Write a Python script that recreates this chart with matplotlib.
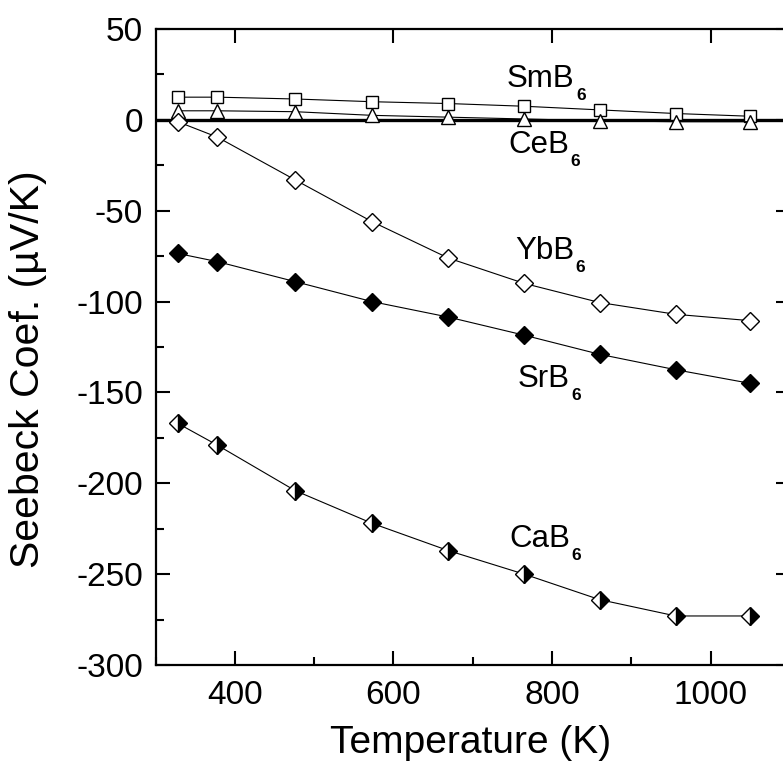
import matplotlib
matplotlib.use("Agg")
import matplotlib.pyplot as plt
from matplotlib.ticker import MultipleLocator
from matplotlib.transforms import offset_copy

plt.rcParams['font.family'] = ['Liberation Sans', 'DejaVu Sans']
plt.rcParams['axes.unicode_minus'] = False

# Data
temperature = [328, 378, 476, 573, 669, 765, 860, 956, 1050]
smb6 = [12.5, 12.5, 11.5, 10, 9, 7.5, 5.5, 3.5, 2]
ceb6 = [5, 5, 4.5, 2.5, 1.5, 0.5, -0.5, -1, -1]
ybb6 = [-1, -9.5, -33, -56, -76, -90, -100.5, -107, -110.5]
srb6 = [-73.5, -78, -89, -100, -108.5, -118.5, -129, -137.5, -145]
cab6 = [-167, -179, -204, -222, -237, -250, -264, -273, -273]

x_ticks = [400, 600, 800, 1000]
y_ticks = [-300, -250, -200, -150, -100, -50, 0, 50]

fig = plt.figure(figsize=(7.83, 7.76), dpi=100)
ax = fig.add_axes([0.1986, 0.143, 0.8103, 0.8196])

lw = 0.8
mew = 1.0
ax.axhline(0, color='black', lw=2.4, zorder=2)
ax.plot(temperature, smb6, '-', color='black', lw=lw, marker='s', ms=9,
        mfc='white', mec='black', mew=mew, zorder=3)
ax.plot(temperature, ceb6, '-', color='black', lw=lw, marker='^', ms=10.5,
        mfc='white', mec='black', mew=mew, zorder=3)
ax.plot(temperature, ybb6, '-', color='black', lw=lw, marker='D', ms=9.5,
        mfc='white', mec='black', mew=mew, zorder=3)
ax.plot(temperature, srb6, '-', color='black', lw=lw, marker='D', ms=9.5,
        mfc='black', mec='black', mew=mew, zorder=3)
ax.plot(temperature, cab6, '-', color='black', lw=lw, marker='D', ms=9.5,
        fillstyle='right', mfc='black', mfcalt='white', mec='black', mew=mew, zorder=3)

ax.set_xlim(300, 1100)
ax.set_ylim(-300, 50)

fig.canvas.draw()
renderer = fig.canvas.get_renderer()

def label(x, y, main, sub):
    t = ax.text(x, y, main, fontsize=22.5, ha='left', va='baseline')
    bb = t.get_window_extent(renderer=renderer)
    xd, yd = ax.transData.transform((x, y))
    dx_pt = (bb.x1 - xd + 1.5) * 72 / fig.dpi
    tr = offset_copy(ax.transData, fig=fig, x=dx_pt, y=-9.5, units='points')
    ax.text(x, y, sub, fontsize=12.5, fontweight='bold', ha='left',
            va='baseline', transform=tr)

label(743, 18.2, 'SmB', '6')
label(745, -18.2, 'CeB', '6')
label(753, -76.5, 'YbB', '6')
label(757, -147, 'SrB', '6')
label(746, -235, 'CaB', '6')

ax.set_xticks(x_ticks)
ax.set_yticks(y_ticks)
ax.xaxis.set_minor_locator(MultipleLocator(100))
ax.yaxis.set_minor_locator(MultipleLocator(25))
ax.tick_params(which='major', direction='in', length=10, width=1.5,
               labelsize=24, top=True, right=True)
ax.tick_params(axis='x', which='major', pad=11)
ax.tick_params(axis='y', which='major', pad=9)
ax.tick_params(which='minor', direction='in', length=6, width=1.5,
               top=False, right=False)
for s in ax.spines.values():
    s.set_linewidth(1.6)

ax.set_xlabel('Temperature (K)', fontsize=28)
ax.set_ylabel('Seebeck Coef. (\u00b5V/K)', fontsize=29.5)
ax.xaxis.set_label_coords(0.497, (665 - 725) / 636)
ax.yaxis.set_label_coords((47 - 155.5) / 634.5, (665 - 369) / 636)

fig.savefig('out.png', dpi=100)
